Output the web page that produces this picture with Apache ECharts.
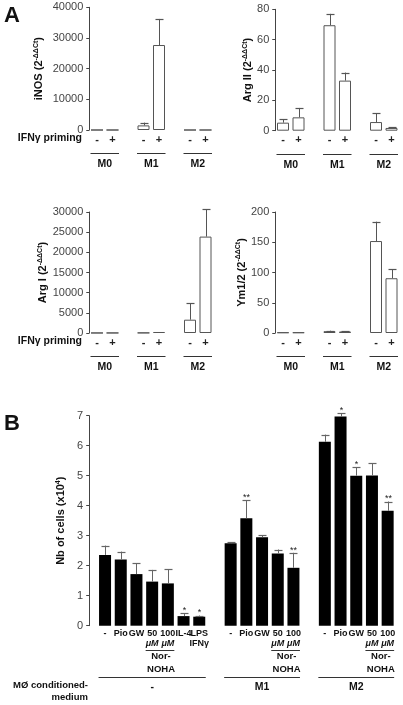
<!DOCTYPE html>
<html><head><meta charset="utf-8">
<script src="https://cdn.jsdelivr.net/npm/echarts@6/dist/echarts.min.js"></script>
<style>html,body{margin:0;padding:0;background:#fff}#c{width:403px;height:705px}</style>
</head><body><div id="c"></div>
<script>
// ---------- Panel A data ----------
const primingLabels = ['-', '+'];
const groupsA = ['M0', 'M1', 'M2'];
const inosMean = [0, 0, 1500, 27700, 0, 0];
const inosSD   = [0, 0, 900, 8500, 0, 0];
const arg2Mean = [5.3, 8.8, 69.5, 33, 5.7, 1.8];
const arg2SD   = [2.2, 6.2, 7.5, 5.3, 5.8, 0.6];
const arg1Mean = [20, 30, 60, 250, 3300, 23900];
const arg1SD   = [0, 0, 0, 60, 4100, 6800];
const ymMean   = [1, 1, 3, 2.5, 152, 90.5];
const ymSD     = [0.4, 0.4, 0.8, 0.8, 32, 14.5];
const ticksA = {inos: [0, 40000, 10000], arg2: [0, 80, 20], arg1: [0, 30000, 5000], ym: [0, 200, 50]};

// ---------- Panel B data ----------
const catsB0 = ['-', 'Pio', 'GW', '50\n{i|μM}', '100\n{i|μM}', 'IL-4', 'LPS\nIFNγ'];
const catsB1 = ['-', 'Pio', 'GW', '50\n{i|μM}', '100\n{i|μM}'];
const catsB2 = ['-', 'Pio', 'GW', '50\n{i|μM}', '100\n{i|μM}'];
const groupsB = ['-', 'M1', 'M2'];
const meanB0 = [2.36, 2.21, 1.72, 1.47, 1.41, 0.32, 0.30];
const sdB0   = [0.31, 0.26, 0.36, 0.39, 0.47, 0.09, 0.04];
const starB0 = ['', '', '', '', '', '*', '*'];
const meanB1 = [2.75, 3.58, 2.95, 2.41, 1.93];
const sdB1   = [0.04, 0.61, 0.06, 0.13, 0.50];
const starB1 = ['', '**', '', '', '**'];
const meanB2 = [6.13, 6.97, 5.00, 5.01, 3.83];
const sdB2   = [0.24, 0.11, 0.28, 0.40, 0.31];
const starB2 = ['', '*', '*', '', '**'];
const ticksB = [0, 7, 1];

const FONT = '"Liberation Sans", Arial, Helvetica, sans-serif';
const AX = '#444';

function slotsA() {
  const cats = [], idx = [];
  groupsA.forEach((g, gi) => {
    if (gi > 0) cats.push('');
    primingLabels.forEach(p => { idx.push(cats.length); cats.push(p); });
  });
  return {cats, idx};
}
const SA = slotsA();
function slotsB() {
  const cats = [], idx = [], groupIdx = [];
  [catsB0, catsB1, catsB2].forEach((cs, gi) => {
    if (gi > 0) cats.push('');
    const gl = [];
    cs.forEach(c => { gl.push(cats.length); idx.push(cats.length); cats.push(c); });
    groupIdx.push(gl);
  });
  return {cats, idx, groupIdx};
}
const SB = slotsB();
const meanB = meanB0.concat(meanB1, meanB2);
const sdB = sdB0.concat(sdB1, sdB2);
const starB = starB0.concat(starB1, starB2);

function barData(cats, idx, mean) {
  const d = cats.map(() => '-');
  idx.forEach((s, i) => d[s] = mean[i]);
  return d;
}
function errData(idx, mean, sd) {
  return idx.map((s, i) => [s, mean[i], mean[i] + sd[i]]);
}
function makeErr(color, capW, stars) {
  return function (params, api) {
    const i = params.dataIndex;
    const x = api.value(0), m = api.value(1), hi = api.value(2);
    const p0 = api.coord([x, m]), p1 = api.coord([x, hi]);
    const cx = Math.round(p0[0]) + 0.5;
    const ch = [];
    if (p0[1] - p1[1] > 0.4) {
      ch.push({type: 'line', shape: {x1: cx, y1: p0[1], x2: cx, y2: p1[1]}, style: {stroke: color, lineWidth: 1}});
      ch.push({type: 'line', shape: {x1: cx - capW / 2, y1: Math.round(p1[1]) + 0.5, x2: cx + capW / 2, y2: Math.round(p1[1]) + 0.5}, style: {stroke: color, lineWidth: 1.2}});
    }
    if (stars && stars[i]) {
      ch.push({type: 'text', style: {text: stars[i], x: cx, y: p1[1] + 2, align: 'center', verticalAlign: 'bottom', fontSize: 9, fontFamily: FONT, fill: '#222'}});
    }
    return {type: 'group', children: ch};
  };
}

const grids = [
  {left: 89.25, width: 124, top: 7.3, height: 122.7},
  {left: 275.25, width: 124, top: 9.3, height: 121.4},
  {left: 89.25, width: 124, top: 212, height: 121},
  {left: 275.25, width: 124, top: 212, height: 121},
  {left: 97.2, width: 298.3, top: 415.7, height: 210}
];

const nameRich = {
  b: {fontSize: 11, fontWeight: 'bold', fontFamily: FONT, color: '#111'},
  s: {fontSize: 7, fontWeight: 'bold', fontFamily: FONT, color: '#111', padding: [0, 0, 6, 0]}
};
function yAxisA(gi, t, name, gap) {
  return {
    type: 'value', gridIndex: gi, min: t[0], max: t[1], interval: t[2],
    name, nameLocation: 'middle', nameGap: gap, nameRotate: 90,
    nameTextStyle: {rich: nameRich},
    axisLine: {show: true, lineStyle: {color: AX, width: 1}},
    axisTick: {show: true, length: 3, lineStyle: {color: AX}},
    axisLabel: {fontSize: 11, color: '#444', fontFamily: FONT, margin: 6, formatter: v => String(v)},
    splitLine: {show: false}
  };
}
function xAxisA(gi) {
  return {
    type: 'category', gridIndex: gi, data: SA.cats,
    axisLine: {show: false}, axisTick: {show: false},
    axisLabel: {interval: 0, fontSize: 11, fontWeight: 'bold', color: '#222', fontFamily: FONT, margin: 4}
  };
}
const barStyleA = {color: '#fff', borderColor: '#555', borderWidth: 1};
const aSets = [[inosMean, inosSD], [arg2Mean, arg2SD], [arg1Mean, arg1SD], [ymMean, ymSD]];
const series = [];
aSets.forEach((s, gi) => {
  series.push({type: 'bar', xAxisIndex: gi, yAxisIndex: gi, barWidth: 12, data: barData(SA.cats, SA.idx, s[0]), itemStyle: barStyleA, animation: false, silent: true});
  series.push({type: 'custom', xAxisIndex: gi, yAxisIndex: gi, renderItem: makeErr('#555', 8, null), encode: {x: 0, y: [1, 2]}, data: errData(SA.idx, s[0], s[1]), z: 5, animation: false, silent: true});
});
series.push({type: 'bar', xAxisIndex: 4, yAxisIndex: 4, barWidth: 12, data: barData(SB.cats, SB.idx, meanB), itemStyle: {color: '#000'}, animation: false, silent: true});
series.push({type: 'custom', xAxisIndex: 4, yAxisIndex: 4, renderItem: makeErr('#666', 8, starB), encode: {x: 0, y: [1, 2]}, data: errData(SB.idx, meanB, sdB), z: 5, animation: false, silent: true});

const option = {
  backgroundColor: '#fff',
  animation: false,
  textStyle: {fontFamily: FONT},
  grid: grids,
  xAxis: [xAxisA(0), xAxisA(1), xAxisA(2), xAxisA(3), {
    type: 'category', gridIndex: 4, data: SB.cats,
    axisLine: {show: false}, axisTick: {show: false},
    axisLabel: {interval: 0, hideOverlap: false, fontSize: 9, fontWeight: 'bold', color: '#111', fontFamily: FONT, margin: 3, lineHeight: 10,
      rich: {i: {fontSize: 9, fontWeight: 'bold', fontStyle: 'italic', color: '#111', fontFamily: FONT, lineHeight: 10}}}
  }],
  yAxis: [
    yAxisA(0, ticksA.inos, '{b|iNOS (2}{s|-ΔΔCt}{b|)}', 44),
    yAxisA(1, ticksA.arg2, '{b|Arg II (2}{s|-ΔΔCt}{b|)}', 20),
    yAxisA(2, ticksA.arg1, '{b|Arg I (2}{s|-ΔΔCt}{b|)}', 37),
    yAxisA(3, ticksA.ym, '{b|Ym1/2 (2}{s|-ΔΔCt}{b|)}', 24),
    Object.assign(yAxisA(4, ticksB, '{b|Nb of cells (x10}{s|4}{b|)}', 16), {offset: 8})
  ],
  series
};

const chart = echarts.init(document.getElementById('c'), null, {renderer: 'canvas'});
chart.setOption(option);

const G = [];
function px(ai, slot) { return chart.convertToPixel({xAxisIndex: ai}, slot); }
function py(ai, v) { return chart.convertToPixel({yAxisIndex: ai}, v); }
function line(x1, y1, x2, y2, c) {
  G.push({type: 'line', shape: {x1, y1: Math.round(y1) + 0.5, x2, y2: Math.round(y1) + 0.5}, style: {stroke: c || '#333', lineWidth: 1}, silent: true});
}
function text(t, x, y, align, size, extra) {
  G.push({type: 'text', x, y, style: Object.assign({text: t, align: align || 'center', verticalAlign: 'middle', fontSize: size || 11, fontWeight: 'bold', fontFamily: FONT, fill: '#111'}, extra || {}), silent: true});
}
[0, 1, 2, 3].forEach(ai => {
  const y0 = py(ai, 0);
  groupsA.forEach((g, gi) => {
    const a = px(ai, SA.idx[gi * 2]), b = px(ai, SA.idx[gi * 2 + 1]);
    line(a - 6.5, y0 + 23, b + 6.5, y0 + 23);
    text(g, (a + b) / 2, y0 + 34, 'center', 10.5);
  });
  if (ai === 0 || ai === 2) text('IFNγ priming', 82, y0 + 8.5, 'right', 10.5);
});
(function () {
  const y0 = py(4, 0);
  SB.groupIdx.forEach((gl, gi) => {
    const a = px(4, gl[0]), b = px(4, gl[gl.length - 1]);
    const n50 = px(4, gl[3]), n100 = px(4, gl[4]);
    line(n50 - 6.5, y0 + 24.5, n100 + 6.5, y0 + 24.5);
    text('Nor-', (n50 + n100) / 2 + 1, y0 + 31, 'center', 9.5);
    text('NOHA', (n50 + n100) / 2 + 1, y0 + 43.5, 'center', 9.5);
    line(a - 6.5, y0 + 51.6, b + 6.5, y0 + 51.6);
    text(groupsB[gi], (a + b) / 2, y0 + 61, 'center', 10.5);
  });
  text('MØ conditioned-', 88, y0 + 60, 'right', 9.5);
  text('medium', 88, y0 + 71.5, 'right', 9.5);
})();
text('A', 4, 16, 'left', 22);
text('B', 4, 424, 'left', 22);
chart.setOption({graphic: G});
</script>
</body></html>
